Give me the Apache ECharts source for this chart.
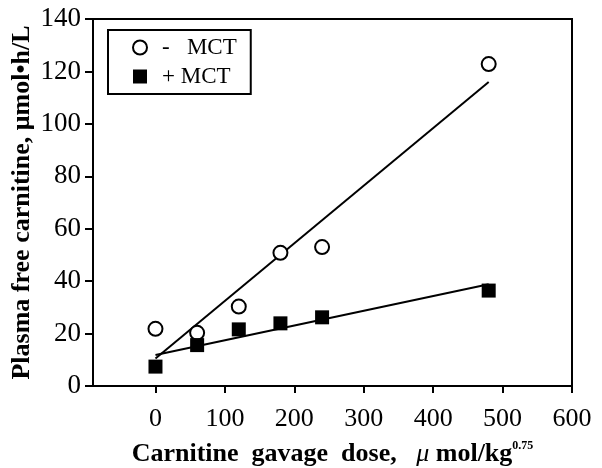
<!DOCTYPE html>
<html>
<head>
<meta charset="utf-8">
<script src="https://cdn.jsdelivr.net/npm/echarts@6/dist/echarts.min.js"></script>
<style>html,body{margin:0;padding:0;background:#fff}#c{width:602px;height:468px}</style>
</head>
<body>
<div id="c"></div>
<script>
var doses = [0, 60, 120, 180, 240, 480];
var minusMCT = [21.8, 20.3, 30.3, 50.8, 53, 122.8];
var plusMCT = [7.4, 15.6, 21.6, 23.9, 26.2, 36.4];
var fitMinus = [[0, 10.5], [480, 116]];
var fitPlus = [[0, 11.8], [480, 38.8]];
var xTicks = [0, 100, 200, 300, 400, 500, 600];

var font = 'Liberation Serif';
function pairs(xs, ys) { return xs.map(function (x, i) { return [x, ys[i]]; }); }

var chart = echarts.init(document.getElementById('c'), null, {renderer: 'canvas'});
chart.setOption({
  animation: false,
  backgroundColor: '#fff',
  grid: {left: 93, right: 30, top: 19, bottom: 82, containLabel: false, outerBoundsMode: 'none',
         show: true, borderColor: '#000', borderWidth: 2, backgroundColor: 'transparent'},
  legend: {
    orient: 'vertical', left: 108, top: 30,
    padding: [6, 14, 6, 24],
    itemGap: 6, itemWidth: 14, itemHeight: 14,
    borderColor: '#000', borderWidth: 2,
    textStyle: {fontFamily: font, fontSize: 23, color: '#000', padding: [0, 0, 0, 10]},
    data: [
      {name: '-   MCT', icon: 'circle', itemStyle: {color: '#fff', borderColor: '#000', borderWidth: 2, opacity: 1}},
      {name: '+ MCT', icon: 'rect', itemStyle: {color: '#000', opacity: 1}}
    ]
  },
  xAxis: {
    type: 'value', min: -90, max: 600,
    axisLine: {onZero: false, lineStyle: {color: '#000', width: 2}},
    axisTick: {show: true, length: 7, lineStyle: {color: '#000', width: 2}, customValues: xTicks},
    axisLabel: {color: '#000', fontFamily: font, fontSize: 26, margin: 20, customValues: xTicks},
    splitLine: {show: false},
    name: '{t|Carnitine  gavage  dose,   }{mu|\u03bc}{t| mol/kg}{s|0.75}',
    nameLocation: 'middle', nameGap: 54,
    nameTextStyle: {
      rich: {
        t: {fontFamily: font, fontWeight: 'bold', fontSize: 26, color: '#000'},
        mu: {fontFamily: font, fontStyle: 'italic', fontSize: 26, color: '#000'},
        s: {fontFamily: font, fontWeight: 'bold', fontSize: 12, color: '#000', verticalAlign: 'top', padding: [0, 0, 16, 0]}
      }
    }
  },
  yAxis: {
    type: 'value', min: 0, max: 140, interval: 20,
    axisLine: {onZero: false, lineStyle: {color: '#000', width: 2}},
    axisTick: {show: true, length: 8, lineStyle: {color: '#000', width: 2}},
    axisLabel: {color: '#000', fontFamily: font, fontSize: 27, margin: 12},
    splitLine: {show: false},
    name: 'Plasma free carnitine, \u03bcmol\u2022h/L',
    nameLocation: 'middle', nameGap: 58, nameMoveOverlap: false,
    nameTextStyle: {fontFamily: font, fontWeight: 'bold', fontSize: 26, color: '#000'}
  },
  series: [
    {name: 'fit-', type: 'line', data: fitMinus, symbol: 'none', lineStyle: {color: '#000', width: 2}, z: 1},
    {name: 'fit+', type: 'line', data: fitPlus, symbol: 'none', lineStyle: {color: '#000', width: 2}, z: 1},
    {name: '-   MCT', type: 'scatter', data: pairs(doses, minusMCT), symbol: 'circle', symbolSize: 14,
     itemStyle: {color: '#fff', borderColor: '#000', borderWidth: 2, opacity: 1}, z: 3},
    {name: '+ MCT', type: 'scatter', data: pairs(doses, plusMCT), symbol: 'rect', symbolSize: 14,
     itemStyle: {color: '#000', opacity: 1}, z: 3}
  ]
});
</script>
</body>
</html>
